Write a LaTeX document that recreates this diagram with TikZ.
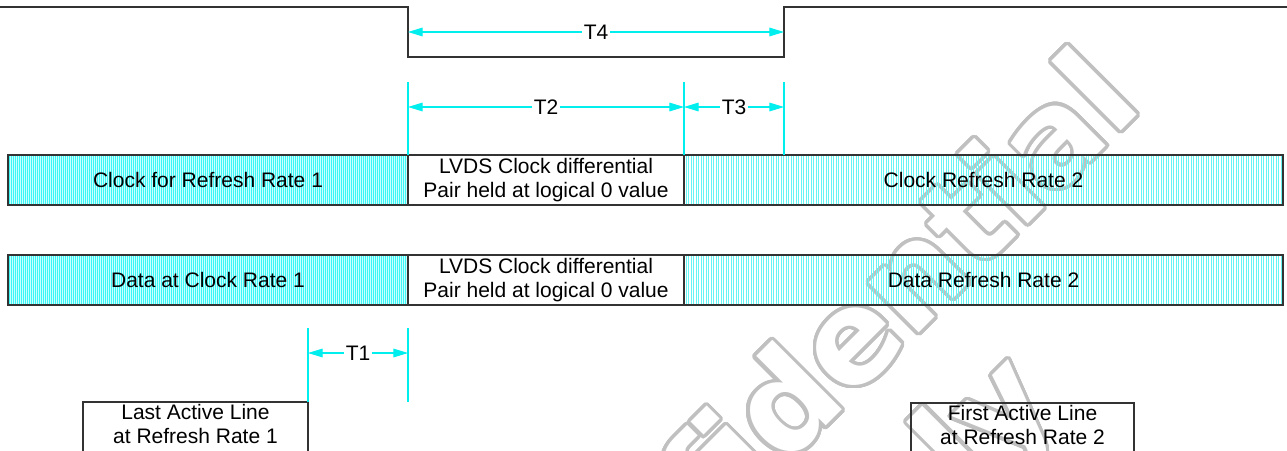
\documentclass[tikz,border=0pt]{standalone}
\usepackage{fontspec}
\setmainfont{Liberation Sans}
\newfontfamily\wmfont{DejaVu Sans}
\usetikzlibrary{arrows.meta,calc}
\definecolor{sigline}{RGB}{51,51,51}
\definecolor{dimcyan}{RGB}{0,238,238}
\definecolor{hatchline}{RGB}{200,255,255}
\definecolor{hatchfill}{RGB}{60,246,246}
\definecolor{wmgray}{RGB}{192,192,192}
\tikzset{
  sig/.style={draw=sigline, line width=0.9pt},
  dimline/.style={dimcyan, line width=0.8pt},
  dimarrow/.style={dimcyan, line width=0.8pt,
    {Triangle[length=11pt,width=6.5pt]}-{Triangle[length=11pt,width=6.5pt]}},
  dimlabel/.style={fill=white, inner sep=1.5pt, font=\fontsize{15.75pt}{18pt}\selectfont},
  boxtext/.style={align=center, inner sep=0pt, font=\fontsize{15.75pt}{18pt}\selectfont},
  hatchA/.style={hatchline, line width=0.45pt},
  hatchB/.style={dimcyan!60, line width=0.4pt},
  wm/.style={font=\wmfont\bfseries\fontsize{97pt}{110pt}\selectfont, rotate=45, anchor=base, inner sep=0pt},
}
\begin{document}
\begin{tikzpicture}[x=0.75pt,y=-0.75pt]
\useasboundingbox (0,0) rectangle (1287,450);

% watermark
\foreach \a in {0,10,...,350}{
  \node[wm, text=wmgray] at ($(833,419)+(\a:3.4)$) {Confidential};
  \node[wm, text=wmgray] at ($(943,525)+(\a:3.4)$) {Only};
}
\node[wm, text=white] (wmtop) at (833,419) {Confidential};
\node[wm, text=white] (wmbot) at (943,525) {Only};

% top signal
\draw[sig] (0,7) -| (408,57) -| (784,7) -- (1287,7);

% hatched fills
\foreach \ya/\yb in {155/205,255/305}{
  \fill[hatchfill] (8,\ya) rectangle (408,\yb);
  \foreach \x in {10,12,...,406}
    \draw[hatchA] (\x,\ya) -- (\x,\yb);
  \foreach \x in {686,688.5,...,1282}
    \draw[hatchB] (\x,\ya) -- (\x,\yb);
}

%Shape: Rectangle
\draw[sig] (8,155) rectangle (1283,205);
\draw[sig] (408,155) -- (408,205) (684,155) -- (684,205);
%Shape: Rectangle
\draw[sig] (8,255) rectangle (1283,305);
\draw[sig] (408,255) -- (408,305) (684,255) -- (684,305);
%Shape: open boxes at the bottom
\draw[sig] (83,460) |- (308,402) -- (308,460);
\draw[sig] (911,460) |- (1134,403) -- (1134,460);

% Text Node
\node[boxtext] (clkone) at (208,180) {Clock for Refresh Rate 1};
\node[boxtext] (clkhold) at (546,180) {LVDS Clock differential\\Pair held at logical 0 value};
\node[boxtext] (clktwo) at (983.5,180) {Clock Refresh Rate 2};
% Text Node
\node[boxtext] (datone) at (208,280) {Data at Clock Rate 1};
\node[boxtext] (dathold) at (546,280) {LVDS Clock differential\\Pair held at logical 0 value};
\node[boxtext] (dattwo) at (983.5,280) {Data Refresh Rate 2};
% Text Node
\node[boxtext, anchor=north] (lastline) at (195.5,404) {Last Active Line\\at Refresh Rate 1};
\node[boxtext, anchor=north] (firstline) at (1022.5,405) {First Active Line\\at Refresh Rate 2};

% timing marks
\draw[dimline] (408,82) -- (408,155);
\draw[dimline] (684,82) -- (684,155);
\draw[dimline] (784,82) -- (784,155);
\draw[dimline] (308,328) -- (308,402);
\draw[dimline] (408,328) -- (408,402);

\coordinate (tfourl) at (408,32);  \coordinate (tfourr) at (784,32);
\coordinate (ttwol) at (408,107);  \coordinate (ttwor) at (684,107);
\coordinate (tthreer) at (784,107);
\coordinate (tonel) at (308,353);  \coordinate (toner) at (408,353);

\draw[dimarrow] (tfourl) -- (tfourr);
\draw[dimarrow] (ttwol) -- (ttwor);
\draw[dimarrow] (ttwor) -- (tthreer);
\draw[dimarrow] (tonel) -- (toner);

\node[dimlabel] (tfour) at ($(tfourl)!0.5!(tfourr)$) {T4};
\node[dimlabel] (ttwo) at ($(ttwol)!0.5!(ttwor)$) {T2};
\node[dimlabel] (tthree) at ($(ttwor)!0.5!(tthreer)$) {T3};
\node[dimlabel] (tone) at ($(tonel)!0.5!(toner)$) {T1};
\end{tikzpicture}
\end{document}
